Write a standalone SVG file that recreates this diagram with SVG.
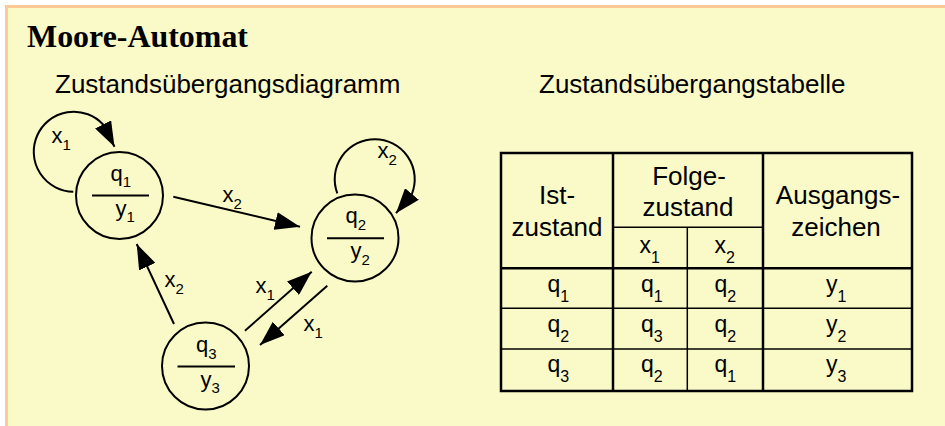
<svg xmlns="http://www.w3.org/2000/svg" width="945" height="426" viewBox="0 0 945 426">
<defs>
<style>
.bg{fill:#FAFAC8;stroke:#FFC896;stroke-width:3}
.t{font-family:"Liberation Sans",Arial,sans-serif;fill:#000}
.hd{font-size:26px}
.lab{font-size:22px}
.sub{font-size:15px}
.tb{font-size:23px}
.tsub{font-size:16px}
.node{fill:none;stroke:#000;stroke-width:2}
.frac{stroke:#000;stroke-width:2}
.edge{fill:none;stroke:#000;stroke-width:2;marker-end:url(#ah)}
.thick{fill:none;stroke:#000;stroke-width:2.5}
.thin{fill:none;stroke:#000;stroke-width:1.5}
</style>
<marker id="ah" markerUnits="userSpaceOnUse" viewBox="0 0 25 18" markerWidth="25" markerHeight="18" refX="25" refY="9" orient="auto">
<path d="M0,0 L25,9 L0,18 z" fill="#000"/>
</marker>
</defs>
<rect class="bg" x="6.5" y="6.5" width="1000" height="1000"/>
<g id="titles">
<text x="27" y="47" font-family="'Liberation Serif','Times New Roman',serif" font-weight="bold" font-size="32" textLength="221" lengthAdjust="spacingAndGlyphs">Moore-Automat</text>
<text class="t hd" x="55" y="93">Zustandsübergangsdiagramm</text>
<text class="t hd" x="539" y="93">Zustandsübergangstabelle</text>
</g>
<g id="q1">
<circle class="node" cx="119.5" cy="195.5" r="43.5"/>
<line class="frac" x1="92" y1="195.5" x2="149" y2="195.5"/>
<text class="t lab" x="110.5" y="180.5">q<tspan class="sub" dy="6.5">1</tspan></text>
<text class="t lab" x="115.5" y="215.5">y<tspan class="sub" dy="6.5">1</tspan></text>
</g>
<g id="q2">
<circle class="node" cx="355" cy="238" r="43.5"/>
<line class="frac" x1="327" y1="238.3" x2="384" y2="238.3"/>
<text class="t lab" x="345.5" y="223.3">q<tspan class="sub" dy="6.5">2</tspan></text>
<text class="t lab" x="350.5" y="258.3">y<tspan class="sub" dy="6.5">2</tspan></text>
</g>
<g id="q3">
<circle class="node" cx="205.5" cy="366" r="43.5"/>
<line class="frac" x1="177.5" y1="366.5" x2="235" y2="366.5"/>
<text class="t lab" x="196" y="352">q<tspan class="sub" dy="6.5">3</tspan></text>
<text class="t lab" x="200.5" y="386.5">y<tspan class="sub" dy="6.5">3</tspan></text>
</g>
<g id="connectors">
<path class="edge" d="M73.3,191.7 A40,40 0 1 1 103.1,124.5 L114.5,146.7"/>
<path class="edge" d="M337.3,193.4 A40,40 0 1 1 411.9,194 L396,213.2"/>
<path class="edge" d="M173.3,196.7 L300,226.7"/>
<path class="edge" d="M174,324 L136.7,244"/>
<path class="edge" d="M245,330.7 L311.7,271.7"/>
<path class="edge" d="M327.3,285.7 L260,345"/>
<text class="t lab" x="51.5" y="143.3">x<tspan class="sub" dy="6.5">1</tspan></text>
<text class="t lab" x="222.5" y="202">x<tspan class="sub" dy="6.5">2</tspan></text>
<text class="t lab" x="377.5" y="158.3">x<tspan class="sub" dy="6.5">2</tspan></text>
<text class="t lab" x="164.5" y="287">x<tspan class="sub" dy="6.5">2</tspan></text>
<text class="t lab" x="255.5" y="293.3">x<tspan class="sub" dy="6.5">1</tspan></text>
<text class="t lab" x="303.5" y="331">x<tspan class="sub" dy="6.5">1</tspan></text>
</g>
<g id="table">
<rect class="thick" x="501" y="153" width="411" height="238"/>
<line class="thick" x1="613" y1="153" x2="613" y2="391"/>
<line class="thick" x1="763" y1="153" x2="763" y2="391"/>
<line class="thin" x1="687.3" y1="227.3" x2="687.3" y2="391"/>
<line class="thin" x1="613" y1="227.3" x2="763" y2="227.3"/>
<line class="thick" x1="501" y1="268.3" x2="912" y2="268.3"/>
<line class="thin" x1="501" y1="308.3" x2="912" y2="308.3"/>
<line class="thin" x1="501" y1="349" x2="912" y2="349"/>
<g class="t hd" text-anchor="middle">
<text x="557" y="204">Ist-</text>
<text x="557" y="236">zustand</text>
<text x="689" y="185">Folge-</text>
<text x="688" y="216">zustand</text>
<text x="838" y="204">Ausgangs-</text>
<text x="836" y="236">zeichen</text>
</g>
<g class="t tb">
<text x="639.5" y="252.5">x<tspan class="tsub" dy="10">1</tspan></text>
<text x="714.5" y="252.5">x<tspan class="tsub" dy="10">2</tspan></text>
<text x="547.5" y="291.7">q<tspan class="tsub" dy="10">1</tspan></text>
<text x="641" y="291.7">q<tspan class="tsub" dy="10">1</tspan></text>
<text x="714.5" y="291.7">q<tspan class="tsub" dy="10">2</tspan></text>
<text x="826" y="291.7">y<tspan class="tsub" dy="10">1</tspan></text>
<text x="547.5" y="331.7">q<tspan class="tsub" dy="10">2</tspan></text>
<text x="641" y="331.7">q<tspan class="tsub" dy="10">3</tspan></text>
<text x="714.5" y="331.7">q<tspan class="tsub" dy="10">2</tspan></text>
<text x="826" y="331.7">y<tspan class="tsub" dy="10">2</tspan></text>
<text x="547.5" y="371.7">q<tspan class="tsub" dy="10">3</tspan></text>
<text x="641" y="371.7">q<tspan class="tsub" dy="10">2</tspan></text>
<text x="714.5" y="371.7">q<tspan class="tsub" dy="10">1</tspan></text>
<text x="826" y="371.7">y<tspan class="tsub" dy="10">3</tspan></text>
</g>
</g>
</svg>
